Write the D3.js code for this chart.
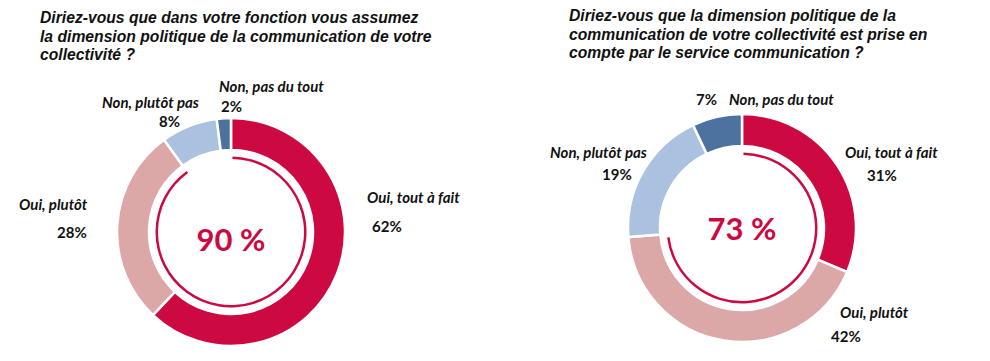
<!DOCTYPE html>
<html><head><meta charset="utf-8">
<script src="https://cdn.jsdelivr.net/npm/d3@7"></script>
<style>
html,body{margin:0;padding:0;background:#fff;}
svg{display:block;}
.title{font-family:"Liberation Sans",Arial,sans-serif;font-weight:bold;font-style:italic;font-size:15.7px;fill:#111;}
.lab{font-family:Lato,"Open Sans",sans-serif;font-weight:bold;font-style:italic;font-size:15px;fill:#111;}
.pct{font-family:Lato,"Open Sans",sans-serif;font-weight:bold;font-size:15px;fill:#111;}
.center{font-family:Lato,"Open Sans",sans-serif;font-weight:bold;font-size:31px;fill:#cc0a41;}
</style>
</head><body>
<script>
// ---- data ----
const categories = ["Oui, tout à fait", "Oui, plutôt", "Non, plutôt pas", "Non, pas du tout"];
const leftValues = [62, 28, 8, 2];
const rightValues = [31, 42, 19, 7];
const leftTitle = ["Diriez-vous que dans votre fonction vous assumez", "la dimension politique de la communication de votre", "collectivité ?"];
const rightTitle = ["Diriez-vous que la dimension politique de la", "communication de votre collectivité est prise en", "compte par le service communication ?"];
const leftTotal = 90;
const rightTotal = 73;

// ---- styles / layout ----
const colors = ["#cc0a41", "#dca8a7", "#aac1df", "#4e72a0"];
const W = 990, H = 361;
const svg = d3.select("body").append("svg").attr("width", W).attr("height", H);

function donut(cfg) {
  const g = svg.append("g").attr("transform", `translate(${cfg.cx},${cfg.cy})`);
  const pie = d3.pie().sort(null).value(d => d.v);
  const arcs = pie(categories.map((c, i) => ({c, v: cfg.values[i], i})));
  const arc = d3.arc().innerRadius(82).outerRadius(114);
  g.selectAll("path.seg").data(arcs).join("path").attr("class", "seg")
    .attr("d", arc).attr("fill", d => colors[d.data.i])
    .attr("stroke", "#fff").attr("stroke-width", 2.5).attr("stroke-linejoin", "miter");
  // inner thin arc for the "Oui" share
  const inner = d3.arc().innerRadius(73).outerRadius(75.5).startAngle(0.02)
    .endAngle(2 * Math.PI * cfg.total / 100);
  g.append("path").attr("d", inner()).attr("fill", "#cc0a41");
  g.append("text").attr("class", "center").attr("text-anchor", "middle")
    .attr("x", 0).attr("y", cfg.centerDy).text(cfg.total + " %");
  // labels
  cfg.labels.forEach((L, i) => {
    svg.append("text").attr("class", "lab").attr("x", L.lx).attr("y", L.ly)
      .attr("text-anchor", L.la || "start").text(categories[i]);
    svg.append("text").attr("class", "pct").attr("x", L.px).attr("y", L.py)
      .attr("text-anchor", L.pa || "start").text(cfg.values[i] + "%");
  });
  // title
  const t = svg.append("text").attr("class", "title");
  cfg.title.forEach((line, k) => {
    t.append("tspan").attr("x", cfg.tx).attr("y", cfg.ty + k * 18.7).text(line);
  });
}

donut({
  cx: 231, cy: 232, values: leftValues, total: leftTotal, centerDy: 19,
  title: leftTitle, tx: 40, ty: 23,
  labels: [
    {lx: 367, ly: 203, px: 372, py: 232},
    {lx: 19, ly: 210, px: 57, py: 238},
    {lx: 102, ly: 108, px: 159, py: 127},
    {lx: 219, ly: 92, px: 221, py: 112}
  ]
});
donut({
  cx: 742, cy: 228, values: rightValues, total: rightTotal, centerDy: 12,
  title: rightTitle, tx: 569, ty: 21,
  labels: [
    {lx: 845, ly: 158, px: 867, py: 181},
    {lx: 840, ly: 318, px: 831, py: 342},
    {lx: 550, ly: 158, px: 602, py: 180},
    {lx: 729, ly: 105, px: 696, py: 105}
  ]
});
</script>
</body></html>
